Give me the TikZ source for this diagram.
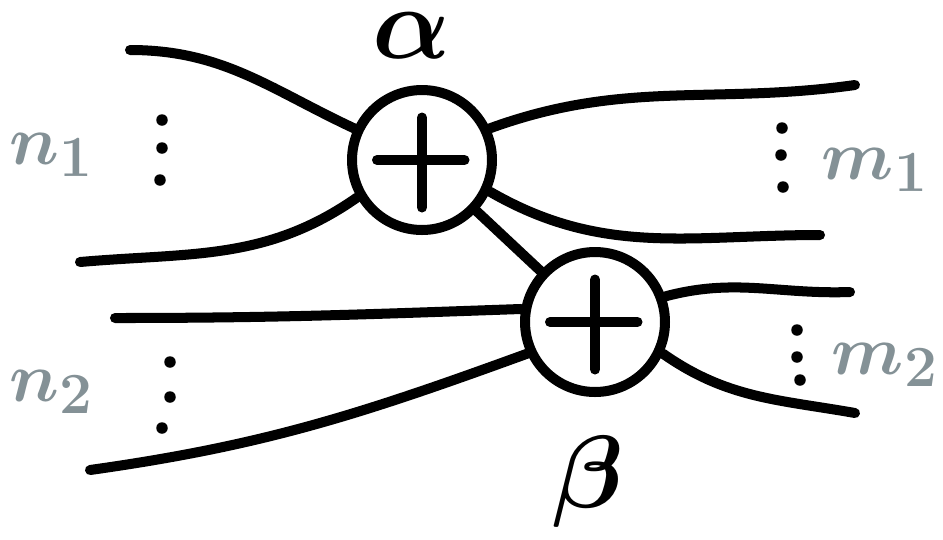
\documentclass[tikz,border=0pt]{standalone}
\usepackage{xcolor}
\usetikzlibrary{positioning}
\definecolor{labelgray}{HTML}{849196}
\newcommand{\bigphase}[1]{\scalebox{2.35}{\Huge\boldmath$#1$}}
\newcommand{\bigarity}[1]{\scalebox{1.6}{\Huge\boldmath$#1$}}

\begin{document}
\begin{tikzpicture}[
    x=0.02cm, y=-0.02cm,
    wire/.style={line width=5.7pt, line cap=round},
    spider/.style={circle, draw=black, line width=5.7pt, minimum size=2.8cm, inner sep=0pt,
      path picture={\draw[line width=5.7pt, line cap=round]
        ([xshift=-0.9cm]path picture bounding box.center) -- ([xshift=0.85cm]path picture bounding box.center)
        ([yshift=-0.95cm]path picture bounding box.center) -- ([yshift=0.85cm]path picture bounding box.center);}},
    dot/.style={circle, fill=black, inner sep=0pt, minimum size=0.23cm},
    phase/.style={inner sep=0pt},
    arity/.style={text=labelgray, inner sep=0pt}
    ]
    \useasboundingbox (0,0) rectangle (943,539);

    \node[spider] (alpha) at (422,160) {};
    \node[spider] (beta) at (595,322) {};
    \node[phase, anchor=north] (alab) at (412,12) {\bigphase{\alpha}};
    \node[phase] (blab) at (588,482) {\bigphase{\beta}};

    % wire ends
    \coordinate (a1) at (130,50);
    \coordinate (a2) at (80,262);
    \coordinate (a3) at (855,85);
    \coordinate (a4) at (820,235);
    \coordinate (b1) at (115,318);
    \coordinate (b2) at (90,470);
    \coordinate (b3) at (850,292);
    \coordinate (b4) at (855,413);

    \draw[wire] (a1) to[out=0, in=155] (alpha.155);
    \draw[wire] (a2) to[out=5, in=-145] (alpha.-150);
    \draw[wire] (alpha.25) to[out=20, in=188] (a3);
    \draw[wire] (alpha.-25) to[out=-30, in=180] (a4);
    \draw[wire] (b1) to[out=0, in=182] (beta.170);
    \draw[wire] (b2) to[out=8, in=-160] (beta.-155);
    \draw[wire] (beta.20) to[out=15, in=182] (b3);
    \draw[wire] (beta.-25) to[out=-35, in=170] (b4);
    \draw[wire] (alpha) -- (beta);

    % dots
    \node[dot] (d1) at (162,120) {};
    \node[dot] (d2) at (162,148) {};
    \node[dot] (d3) at (160,180) {};
    \node[dot] (d4) at (782,128) {};
    \node[dot] (d5) at (781,155) {};
    \node[dot] (d6) at (783,187) {};
    \node[dot] (d7) at (170,362) {};
    \node[dot] (d8) at (170,397) {};
    \node[dot] (d9) at (162,428) {};
    \node[dot] (d10) at (797,330) {};
    \node[dot] (d11) at (797,357) {};
    \node[dot] (d12) at (800,380) {};

    \node[arity] (n1) at (52,155) {\bigarity{n_1}};
    \node[arity] (n2) at (52,392) {\bigarity{n_2}};
    \node[arity] (m1) at (875,170) {\bigarity{m_1}};
    \node[arity] (m2) at (885,365) {\bigarity{m_2}};
  \end{tikzpicture}
\end{document}
